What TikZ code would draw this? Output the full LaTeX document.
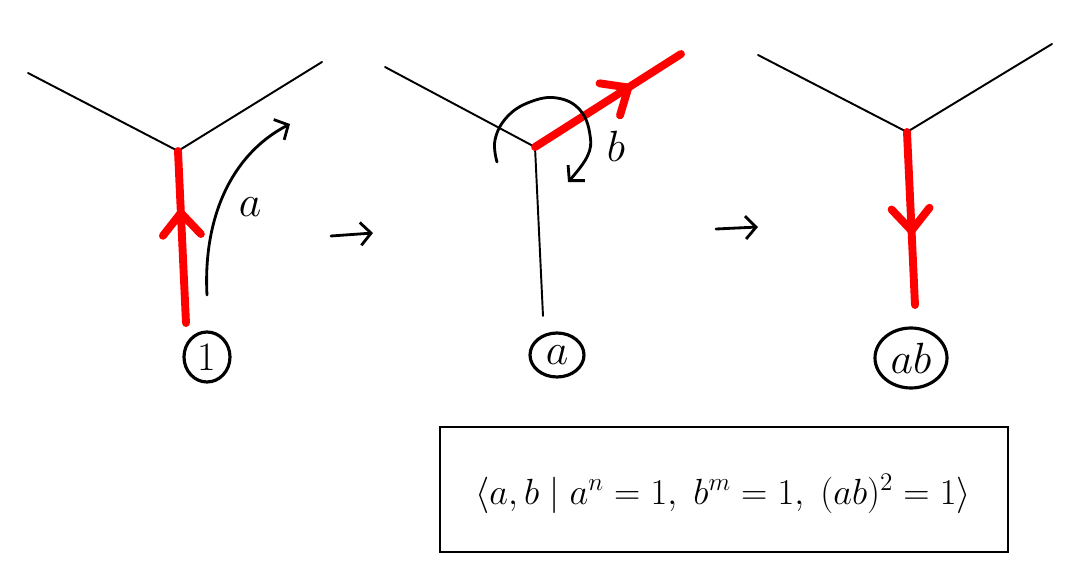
\documentclass[tikz,border=0pt]{standalone}
\usetikzlibrary{arrows.meta,decorations.markings,shapes.geometric}
\begin{document}
\begin{tikzpicture}[x=0.02cm,y=-0.02cm,
  thinedge/.style={line width=1.1pt, black, line cap=round},
  rededge/.style={line width=4.5pt, red, line cap=round},
  chevron/.style={postaction={decorate,decoration={markings,mark=at position #1 with {\draw[red,line width=4.5pt,line cap=round,line join=round] (-0.44cm,-0.38cm) -- (0,0) -- (-0.44cm,0.38cm);}}}},
  hand/.style={line width=1.6pt, black, line cap=round},
  barb/.style={-{Straight Barb[length=6pt,width=13pt,line width=1.6pt]}},
  circled/.style={draw, ellipse, line width=1.8pt, inner sep=0pt},
  lab/.style={font=\fontsize{30}{30}\selectfont, inner sep=0pt}]
\useasboundingbox[fill=white] (0,0) rectangle (1080,588);

% ---- panel 1
\coordinate (v1) at (178,151);
\coordinate (l1) at (28,73);
\coordinate (r1) at (322,62);
\coordinate (d1) at (186,323);
\draw[thinedge] (l1) -- (v1) -- (r1);
\draw[rededge, chevron=0.64] (d1) -- (v1);
\coordinate (as) at (207,295);
\coordinate (ae) at (290,124);
\draw[hand, barb] (as) .. controls (203,220) and (230,155) .. (ae);
\node[lab] (la) at (250,207) {$a$};
\node[circled, minimum width=0.92cm, minimum height=1.0cm, font=\fontsize{23}{23}\selectfont] (c1) at (207,357) {1};

% ---- arrow 1
\coordinate (t1s) at (331,236);
\coordinate (t1e) at (373,233);
\draw[hand, barb] (t1s) -- (t1e);

% ---- panel 2
\coordinate (v2) at (535,147);
\coordinate (l2) at (385,67);
\coordinate (r2) at (681,54);
\coordinate (d2) at (543,316);
\draw[thinedge] (l2) -- (v2) -- (d2);
\draw[rededge, chevron=0.64] (v2) -- (r2);
\draw[hand, barb] plot[smooth, tension=0.7] coordinates {(497,162) (495,140) (507,117) (530,102) (557,98) (580,110) (590,135) (587,157) (568,182)};
\node[lab] (lb) at (616,146) {$b$};
\node[circled, minimum width=1.08cm, minimum height=0.88cm, font=\fontsize{24}{24}\selectfont] (c2) at (557,355) {$a$};

% ---- arrow 2
\coordinate (t2s) at (716,229);
\coordinate (t2e) at (758,227);
\draw[hand, barb] (t2s) -- (t2e);

% ---- panel 3
\coordinate (v3) at (907,132);
\coordinate (l3) at (758,55);
\coordinate (r3) at (1052,44);
\coordinate (d3) at (915,305);
\draw[thinedge] (l3) -- (v3) -- (r3);
\draw[rededge, chevron=0.57] (v3) -- (d3);
\node[circled, minimum width=1.44cm, minimum height=1.2cm, font=\fontsize{24}{24}\selectfont] (c3) at (911,358) {$ab$};

% ---- presentation box
\node[draw, line width=1.2pt, minimum width=11.36cm, minimum height=2.5cm, inner sep=0pt] (box) at (724,489.5) {};
\node[font=\fontsize{21.5}{26}\selectfont] (pres) at (723,494) {$\langle a, b \mid a^{n} = 1,\; b^{m} = 1,\; (ab)^{2} = 1 \rangle$};
\end{tikzpicture}
\end{document}
